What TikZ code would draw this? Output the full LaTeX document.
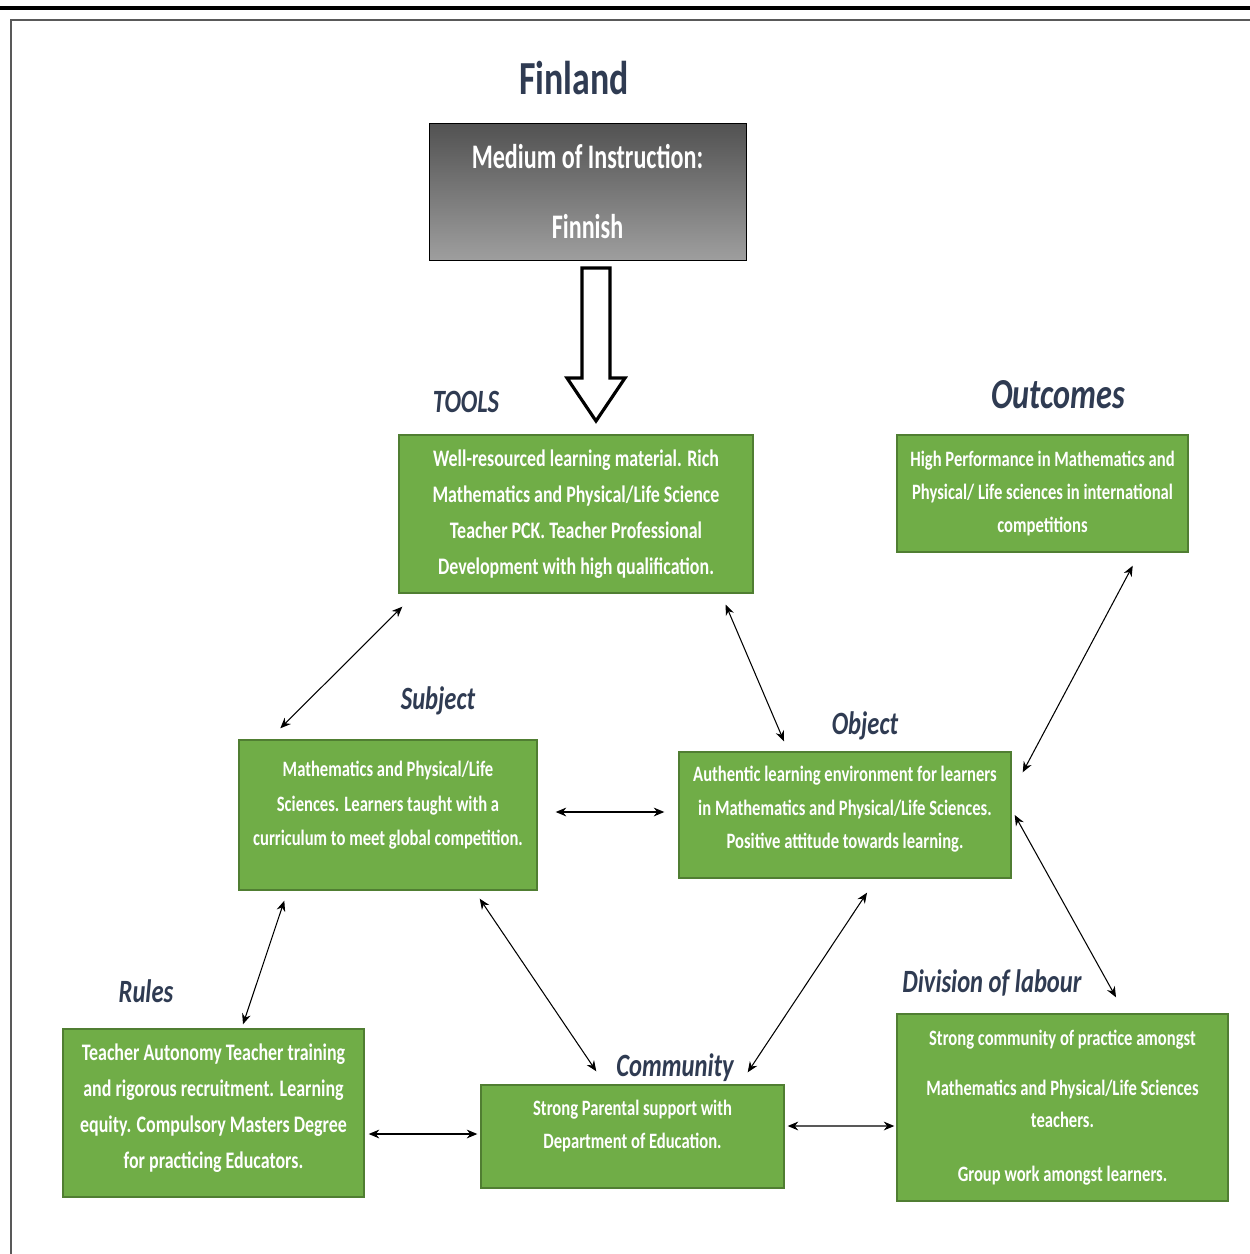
\documentclass[tikz,border=0pt]{standalone}
\usepackage{fontspec}
\setmainfont{Carlito}[FakeStretch=0.756]
\newfontfamily\narrowfont{Carlito}[FakeStretch=0.7]
\usetikzlibrary{arrows.meta}
\definecolor{boxgreen}{HTML}{70AD47}
\definecolor{boxedge}{HTML}{507E32}
\definecolor{labelblue}{HTML}{2F3B52}
\tikzset{
    activity/.style={
        rectangle, draw=boxedge, thick,
        fill=boxgreen, text=white, align=center,
        font=\fontsize{13.5}{20.5}\selectfont\bfseries,
        inner sep=0pt
    },
    tag/.style={
        text=labelblue, font=\fontsize{18.5}{20}\selectfont\bfseries\itshape,
        inner sep=1pt
    },
    link/.style={draw=black, semithick, {Stealth[length=6pt,width=5pt]}-{Stealth[length=6pt,width=5pt]}}
}

\begin{document}
\begin{tikzpicture}[x=0.02cm, y=-0.02cm]
\useasboundingbox (0,0) rectangle (1250,1254);

% Page frame
\draw[line width=2.6pt] (0,8) -- (1250,8);
\draw[gray!70!black, line width=0.8pt] (11,1254) -- (11,20) -- (1250,20);

% Title and medium of instruction
\node[tag, font=\fontsize{27}{30}\selectfont\bfseries] (title) at (574,78) {Finland};
\node[rectangle, draw=black, top color=black!68, bottom color=black!38,
      text=white, align=center, minimum width=317*0.02cm, minimum height=137*0.02cm,
      font=\narrowfont\fontsize{19.6}{20}\selectfont\bfseries] (medium) at (587.5,191.5)
      {Medium of Instruction:\\[20pt]Finnish};

% Block arrow down to the tools
\draw[line width=1.8pt, fill=white]
    (582,268) -- (610,268) -- (610,378) -- (625,378) -- (596,421)
    -- (567,378) -- (582,378) -- cycle;

% Activity boxes
\node[activity, minimum width=354*0.02cm, minimum height=158*0.02cm] (tools) at (576,514)
    {Well-resourced learning material. Rich\\Mathematics and Physical/Life Science\\Teacher PCK. Teacher Professional\\Development with high qualification.};
\node[activity, minimum width=291*0.02cm, minimum height=117*0.02cm,
      font=\fontsize{12.5}{19}\selectfont\bfseries] (outcomes) at (1042.5,493.5)
    {High Performance in Mathematics and\\Physical/ Life sciences in international\\competitions};
\node[activity, minimum width=298*0.02cm, minimum height=150*0.02cm,
      font=\fontsize{12.5}{19.5}\selectfont\bfseries] (subject) at (388,815)
    {Mathematics and Physical/Life\\Sciences. Learners taught with a\\curriculum to meet global competition.\\[-6.3pt]};
\node[activity, minimum width=332*0.02cm, minimum height=126*0.02cm,
      font=\fontsize{12.5}{19}\selectfont\bfseries] (object) at (845,815)
    {Authentic learning environment for learners\\in Mathematics and Physical/Life Sciences.\\Positive attitude towards learning.\\[-10.3pt]};
\node[activity, minimum width=301*0.02cm, minimum height=168*0.02cm] (rules) at (213.5,1113)
    {Teacher Autonomy Teacher training\\and rigorous recruitment. Learning\\equity. Compulsory Masters Degree\\for practicing Educators.\\[-12.4pt]};
\node[activity, minimum width=303*0.02cm, minimum height=103*0.02cm,
      font=\fontsize{12.5}{18.5}\selectfont\bfseries] (community) at (632.5,1136.5)
    {Strong Parental support with\\Department of Education.\\[-4.7pt]};
\node[activity, minimum width=331*0.02cm, minimum height=187*0.02cm,
      font=\fontsize{12.5}{18.5}\selectfont\bfseries] (division) at (1062.5,1107.5)
    {Strong community of practice amongst\\[10pt]Mathematics and Physical/Life Sciences\\teachers.\\[12pt]Group work amongst learners.};

% Labels
\node[tag] (toolstag) at (466,402) {TOOLS};
\node[tag, font=\fontsize{24.3}{25}\selectfont\bfseries\itshape] (outtag) at (1058,395) {Outcomes};
\node[tag] (subjtag) at (438,701) {Subject};
\node[tag] (objtag) at (865,726) {Object};
\node[tag] (rulestag) at (146,991) {Rules};
\node[tag, fill=white] (commtag) at (675,1068) {Community};
\node[tag] (divtag) at (992,983) {Division of labour};

% Connections
\draw[link] ([shift={(4,13)}]tools.south west) -- ([shift={(42,-11)}]subject.north west);
\draw[link] ([shift={(-28,11)}]tools.south east) -- ([shift={(-61,-10)}]object.north);
\draw[link] ([shift={(-56,13)}]outcomes.south east) -- ([shift={(11,21)}]object.north east);
\draw[link] ([shift={(18,-3)}]subject.east) -- ([shift={(-14,-3)}]object.west);
\draw[link] ([shift={(46,10)}]subject.south west) -- ([shift={(29.5,-4)}]rules.north);
\draw[link] ([shift={(-58,8)}]subject.south east) -- ([shift={(116,-13)}]community.north west);
\draw[link] ([shift={(22,14)}]object.south) -- ([shift={(-37,-12)}]community.north east);
\draw[link] ([shift={(3,0)}]object.east) -- ([shift={(53.5,-16)}]division.north);
\draw[link] ([shift={(4,21)}]rules.east) -- ([shift={(-3,-2.5)}]community.west);
\draw[link] ([shift={(3,-10.5)}]community.east) -- ([shift={(-2,18.5)}]division.west);

\end{tikzpicture}
\end{document}
